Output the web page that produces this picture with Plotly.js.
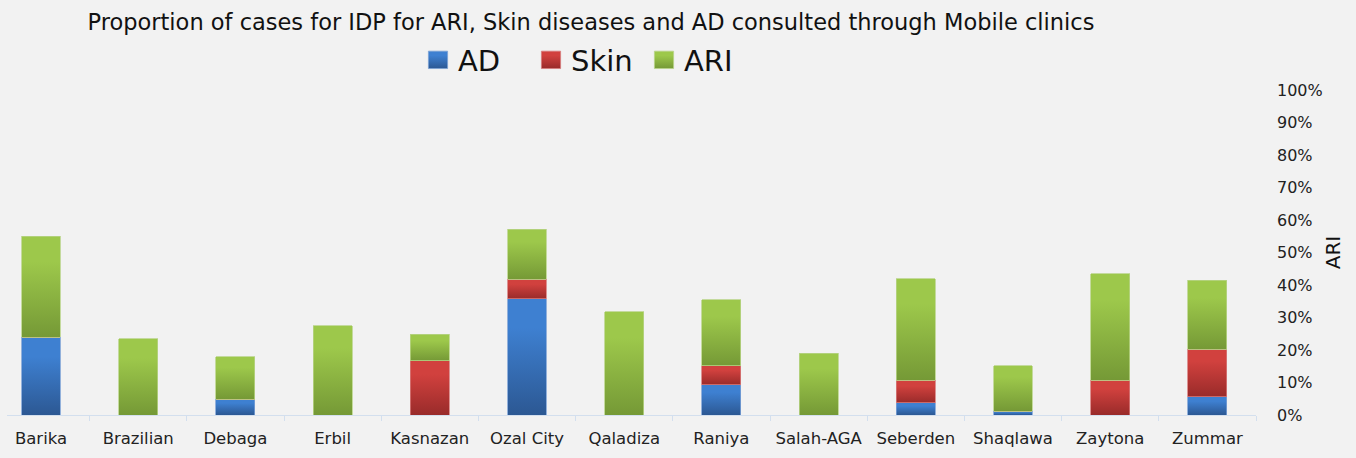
<!DOCTYPE html>
<html>
<head>
<meta charset="utf-8">
<script src="https://cdn.plot.ly/plotly-3.0.1.min.js"></script>
<style>html,body{margin:0;padding:0;background:#f2f2f2;}#chart{width:1356px;height:458px;}</style>
</head>
<body>
<div id="chart"></div>
<script>
const categories = ["Barika","Brazilian","Debaga","Erbil","Kasnazan","Ozal City","Qaladiza","Raniya","Salah-AGA","Seberden","Shaqlawa","Zaytona","Zummar"];
const adValues   = [0.239, 0,     0.049, 0,     0,     0.357, 0,     0.093, 0,     0.037, 0.012, 0,     0.056];
const skinValues = [0,     0,     0,     0,     0.167, 0.060, 0,     0.059, 0,     0.070, 0,     0.107, 0.146];
const ariValues  = [0.311, 0.234, 0.130, 0.274, 0.082, 0.155, 0.317, 0.202, 0.190, 0.312, 0.140, 0.328, 0.212];
const yTickVals  = [0,0.1,0.2,0.3,0.4,0.5,0.6,0.7,0.8,0.9,1];
const yTickText  = ["0%","10%","20%","30%","40%","50%","60%","70%","80%","90%","100%"];

const FONT = "DejaVu Sans, sans-serif";
// [top colour, bottom colour, mid colour] for each series
const seriesColors = {
  AD:   ["#3e80d1", "#2c5893", "#3468b0"],
  Skin: ["#d1413e", "#992b2a", "#b53433"],
  ARI:  ["#9dc84b", "#759936", "#89ae41"]
};
function trace(name, vals, edge) {
  return {type:"bar", name:name, x:categories, y:vals,
    marker:{color:seriesColors[name][2], line:{color:edge, width:0.8}}, hoverinfo:"none"};
}
const data = [
  trace("AD", adValues, "#7aa0d4"),
  trace("Skin", skinValues, "#d67a7a"),
  trace("ARI", ariValues, "#b8d387")
];
const layout = {
  width:1356, height:458,
  paper_bgcolor:"#f2f2f2", plot_bgcolor:"#f2f2f2",
  margin:{l:7, r:100, t:90, b:43},
  barmode:"stack", bargap:0.6,
  font:{family:FONT, color:"#222"},
  title:{text:"Proportion of cases for IDP for ARI, Skin diseases and AD consulted through Mobile clinics",
    font:{family:FONT, size:22.5, color:"#111"}, x:591/1356, xanchor:"center", y:1-22/458, yanchor:"middle"},
  showlegend:true,
  legend:{orientation:"h", x:(418-7)/1249, xanchor:"left", xref:"paper", y:1+ (90-60)/325, yanchor:"middle",
    font:{family:FONT, size:29, color:"#111"}, bgcolor:"rgba(0,0,0,0)", traceorder:"normal",
    entrywidth:68, entrywidthmode:"pixels"},
  xaxis:{range:[-0.35,12.5], showline:true, linecolor:"#d3dfee", linewidth:1,
    ticks:"outside", tickson:"boundaries", ticklen:5, tickcolor:"#d3dfee", ticklabelstandoff:8,
    showgrid:false, zeroline:false, tickfont:{family:FONT, size:16.5, color:"#222"}, fixedrange:true},
  yaxis:{side:"right", range:[0,1], tickvals:yTickVals, ticktext:yTickText,
    showgrid:false, zeroline:false, showline:false, ticks:"", ticklabelstandoff:20,
    tickfont:{family:FONT, size:16, color:"#222"},
    title:{text:"ARI", font:{family:FONT, size:20, color:"#111"}, standoff:4}}
};

function addGradients(gd) {
  const svg = gd.querySelector("svg.main-svg");
  const ns = "http://www.w3.org/2000/svg";
  let defs = svg.querySelector("defs");
  if (!defs) { defs = document.createElementNS(ns, "defs"); svg.insertBefore(defs, svg.firstChild); }
  Object.keys(seriesColors).forEach(function (name) {
    const g = document.createElementNS(ns, "linearGradient");
    g.setAttribute("id", "grad-" + name);
    g.setAttribute("x1", "0"); g.setAttribute("y1", "0");
    g.setAttribute("x2", "0"); g.setAttribute("y2", "1");
    [[0, seriesColors[name][0]], [0.25, seriesColors[name][0]], [1, seriesColors[name][1]]].forEach(function (s) {
      const st = document.createElementNS(ns, "stop");
      st.setAttribute("offset", s[0]);
      st.setAttribute("stop-color", s[1]);
      g.appendChild(st);
    });
    defs.appendChild(g);
  });
  const names = data.map(function (t) { return t.name; });
  gd.querySelectorAll(".barlayer .trace.bars").forEach(function (tr, i) {
    tr.querySelectorAll("path").forEach(function (p) { p.style.fill = "url(#grad-" + names[i] + ")"; });
  });
  gd.querySelectorAll(".legend .traces").forEach(function (tr, i) {
    tr.querySelectorAll(".legendpoints path").forEach(function (p) {
      const prev = p.getAttribute("transform") || "";
      p.setAttribute("transform", prev + " scale(1.6,1.45)");
      p.style.fill = "url(#grad-" + names[i] + ")";
      p.style.strokeWidth = "0.5px";
    });
  });
}
Plotly.newPlot("chart", data, layout, {displayModeBar:false, staticPlot:true}).then(addGradients);
</script>
</body>
</html>
